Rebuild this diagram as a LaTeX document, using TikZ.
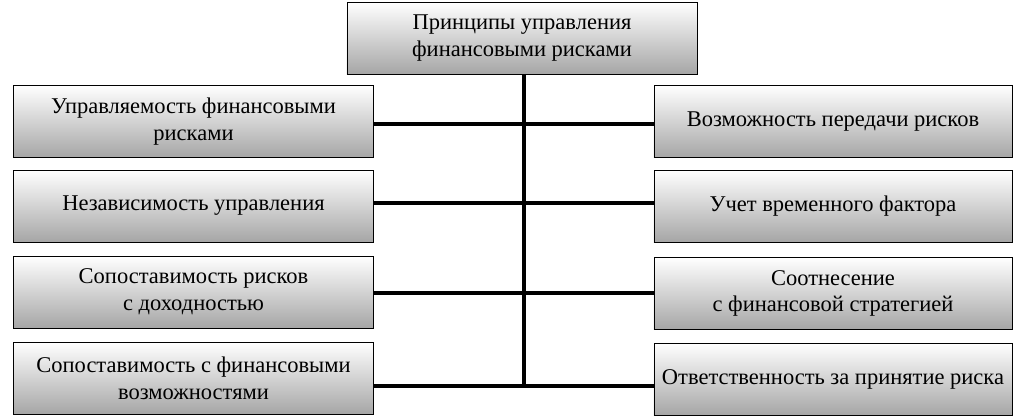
\documentclass[tikz,border=0pt]{standalone}
\usepackage{fontspec}
\setmainfont{Liberation Serif}
\begin{document}
\begin{tikzpicture}[
                x = 0.025cm, y = -0.025cm,
                box/.style = {draw, thin, top color = white, bottom color = black!35,
                    minimum width = 9cm, minimum height = 1.8cm, align = center,
                    font = \fontsize{16}{19}\selectfont},
                link/.style = {draw, line width = 2.2pt},
            ]
            \useasboundingbox (0,0) rectangle (1024,419);
            \node (top) [box, minimum width = 8.75cm] at (522,38) {Принципы управления\\финансовыми рисками};

            \node (l1) [box] at (193.5,121.5) {Управляемость финансовыми\\рисками};
            \node (l2) [box] at (193.5,206) {Независимость управления};
            \node (l3) [box] at (193.5,292) {Сопоставимость рисков\\с доходностью};
            \node (l4) [box] at (193.5,378) {Сопоставимость с финансовыми\\возможностями};

            \node (r1) [box, minimum width = 8.95cm] at (833,121.5) {Возможность передачи рисков};
            \node (r2) [box, minimum width = 8.95cm] at (833,206) {Учет временного фактора};
            \node (r3) [box, minimum width = 8.95cm] at (833,293.5) {Соотнесение\\с финансовой стратегией};
            \node (r4) [box, minimum width = 8.95cm] at (833,379) {Ответственность за принятие риска};

            \coordinate (end) at (524,387);
            \path[link] (top.south -| end) -- (end);

            \path[link] (l1.east |- 0,124) -- (r1.west |- 0,124);
            \path[link] (l2.east |- 0,203) -- (r2.west |- 0,203);
            \path[link] (l3.east |- 0,293) -- (r3.west |- 0,293);
            \path[link] (l4.east |- 0,386) -- (r4.west |- 0,386);
        \end{tikzpicture}
\end{document}
